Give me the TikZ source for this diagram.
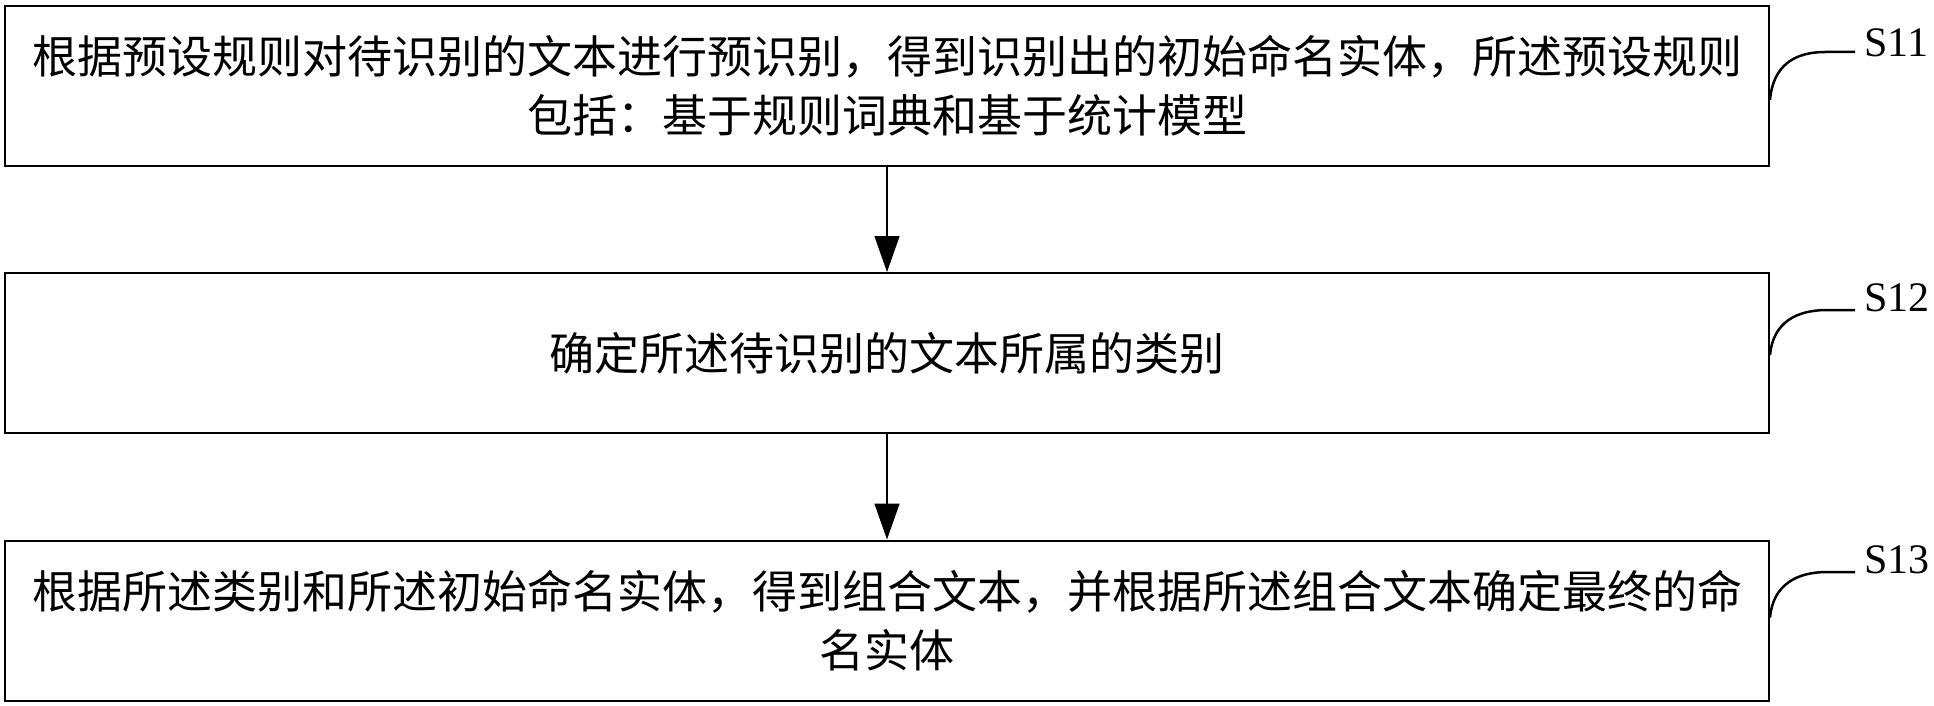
\documentclass[tikz,border=0pt]{standalone}
\usepackage{fontspec}
\setmainfont{Liberation Serif}
\newfontfamily\cjk{Noto Sans CJK SC}
\usetikzlibrary{arrows.meta}
\begin{document}
\begin{tikzpicture}[x=1pt,y=-1pt,
  box/.style={draw, line width=2pt, minimum width=1764pt, minimum height=160pt,
    inner sep=0pt, align=center, font=\cjk\fontsize{45}{59}\selectfont},
  flow/.style={line width=1.5pt, -{Triangle[length=36pt,width=25pt]}},
  lead/.style={line width=2.5pt},
  steplabel/.style={anchor=west, inner sep=0pt, font=\fontsize{42}{50}\selectfont}]
\useasboundingbox (0,0) rectangle (1934,706);
\node[box] (b1) at (887,86) {根据预设规则对待识别的文本进行预识别，得到识别出的初始命名实体，所述预设规则\\包括：基于规则词典和基于统计模型};
\node[box] (b2) at (887,353) {确定所述待识别的文本所属的类别};
\node[box] (b3) at (887,620.5) {根据所述类别和所述初始命名实体，得到组合文本，并根据所述组合文本确定最终的命\\名实体};
\draw[flow] (b1) -- (b2);
\draw[flow] (b2) -- (b3);
\coordinate (c1) at (1825,52);
\coordinate (e1) at (1855,52);
\coordinate (c2) at (1827,310);
\coordinate (e2) at (1855,310);
\coordinate (c3) at (1827,572);
\coordinate (e3) at (1855,572);
\node[steplabel] (s1) at (1864,43) {S11};
\node[steplabel] (s2) at (1864,298) {S12};
\node[steplabel] (s3) at (1864,560) {S13};
\draw[lead] ([yshift=-14pt]b1.east) .. controls +(3,-35) and +(-30,0) .. (c1) -- (e1);
\draw[lead] ([yshift=-2pt]b2.east) .. controls +(3,-33) and +(-30,0) .. (c2) -- (e2);
\draw[lead] ([yshift=3pt]b3.east) .. controls +(3,-33) and +(-30,0) .. (c3) -- (e3);
\end{tikzpicture}
\end{document}
